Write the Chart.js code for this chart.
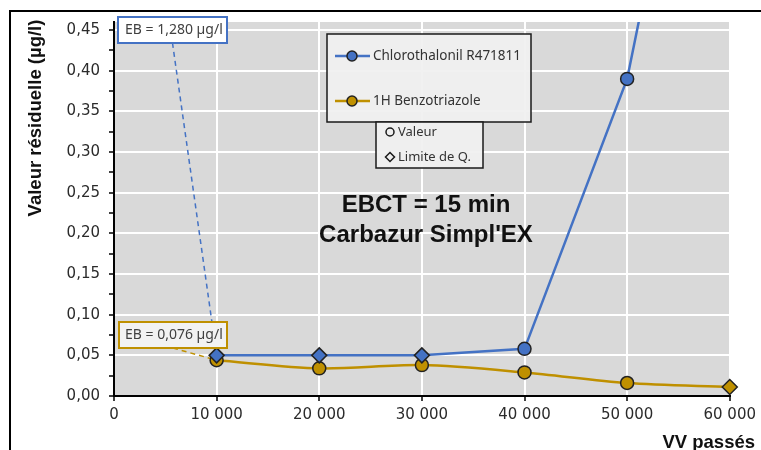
<!DOCTYPE html>
<html>
<head>
<meta charset="utf-8">
<script src="https://cdn.jsdelivr.net/npm/chart.js@4/dist/chart.umd.min.js"></script>
<style>
  html, body { margin: 0; padding: 0; background: #fff; }
  #wrap { width: 761px; height: 450px; position: relative; }
</style>
</head>
<body>
<div id="wrap"><canvas id="chart" width="761" height="450"></canvas></div>
<script>
// VV passés (x) and residual values (µg/l)
var vvPasses = [10000, 20000, 30000, 40000, 50000, 60000];
var chlorothalonil = [0.05, 0.05, 0.05, 0.058, 0.39, 1.01];
var chlorothalonilLQ = [true, true, true, false, false, false];
var benzotriazole = [0.044, 0.034, 0.038, 0.029, 0.016, 0.011];
var benzotriazoleLQ = [false, false, false, false, false, true];
var ebLabels = ["EB = 1,280 µg/l", "EB = 0,076 µg/l"];
var xTicks = [0, 10000, 20000, 30000, 40000, 50000, 60000];
var yTicks = [0, 0.05, 0.10, 0.15, 0.20, 0.25, 0.30, 0.35, 0.40, 0.45];

var BLUE = "#4472C4";
var GOLD = "#BF9000";

function toPoints(xs, ys) {
    return xs.map(function(x, i) { return { x: x, y: ys[i] }; });
}
function styles(lq) {
    return lq.map(function(d) { return d ? "rectRot" : "circle"; });
}
function radii(lq) {
    return lq.map(function(d) { return d ? 7.5 : 6.5; });
}
function fmtThousands(v) {
    return String(v).replace(/\B(?=(\d{3})+(?!\d))/g, " ");
}
function isMinor(v) {
    return Math.round(v / 0.025) % 2 === 1;
}

// majors + minors for the y axis
var yAllTicks = [];
yTicks.forEach(function(v, i) {
    yAllTicks.push(v);
    if (i < yTicks.length - 1) yAllTicks.push((v + yTicks[i + 1]) / 2);
});

var decor = {
    id: "decor",
    beforeDraw: function(chart) {
        var ctx = chart.ctx, a = chart.chartArea;
        ctx.save();
        ctx.fillStyle = "#fff";
        ctx.fillRect(0, 0, chart.width, chart.height);
        ctx.fillStyle = "#D9D9D9";
        ctx.fillRect(a.left, a.top, a.right - a.left, a.bottom - a.top);
        ctx.restore();
    },
    beforeDatasetsDraw: function(chart) {
        // leader lines from the EB boxes to the 10 000 points
        var ctx = chart.ctx, xs = chart.scales.x, ys = chart.scales.y;
        ctx.save();
        ctx.setLineDash([5, 4]);
        ctx.lineWidth = 1.5;
        ctx.strokeStyle = BLUE;
        ctx.beginPath();
        ctx.moveTo(172.5, 43);
        ctx.lineTo(xs.getPixelForValue(vvPasses[0]), ys.getPixelForValue(chlorothalonil[0]));
        ctx.stroke();
        ctx.strokeStyle = GOLD;
        ctx.beginPath();
        ctx.moveTo(173, 348);
        ctx.lineTo(xs.getPixelForValue(vvPasses[0]), ys.getPixelForValue(benzotriazole[0]));
        ctx.stroke();
        ctx.restore();
    },
    afterDraw: function(chart) {
        var ctx = chart.ctx;
        ctx.save();

        // outer frame (top + left)
        ctx.strokeStyle = "#000";
        ctx.lineWidth = 2;
        ctx.beginPath();
        ctx.moveTo(10, 450);
        ctx.lineTo(10, 11);
        ctx.lineTo(761, 11);
        ctx.stroke();

        // axis titles
        ctx.fillStyle = "#111";
        ctx.font = "bold 18.5px 'Liberation Sans', Arial, sans-serif";
        ctx.textAlign = "center";
        ctx.textBaseline = "middle";
        ctx.save();
        ctx.translate(36, 118);
        ctx.rotate(-Math.PI / 2);
        ctx.fillText("Valeur résiduelle (µg/l)", 0, 0);
        ctx.restore();
        ctx.textAlign = "right";
        ctx.textBaseline = "alphabetic";
        ctx.fillText("VV passés", 755, 448);

        // centre annotation
        ctx.textAlign = "center";
        ctx.textBaseline = "middle";
        ctx.font = "bold 24px 'Liberation Sans', Arial, sans-serif";
        ctx.fillText("EBCT = 15 min", 426, 205);
        ctx.fillText("Carbazur Simpl'EX", 426, 235);

        // legend box 1
        ctx.fillStyle = "rgba(240,240,240,0.95)";
        ctx.fillRect(327, 34, 204, 88);
        ctx.strokeStyle = "#1a1a1a";
        ctx.lineWidth = 1.5;
        ctx.strokeRect(327, 34, 204, 88);
        var entries = [["Chlorothalonil R471811", BLUE, 56], ["1H Benzotriazole", GOLD, 101]];
        ctx.font = "13.5px 'Noto Sans', 'Open Sans', sans-serif";
        ctx.textAlign = "left";
        entries.forEach(function(e) {
            ctx.strokeStyle = e[1];
            ctx.lineWidth = 2.5;
            ctx.beginPath();
            ctx.moveTo(335, e[2]);
            ctx.lineTo(370, e[2]);
            ctx.stroke();
            ctx.fillStyle = e[1];
            ctx.strokeStyle = "#222";
            ctx.lineWidth = 1.5;
            ctx.beginPath();
            ctx.arc(352, e[2], 5, 0, Math.PI * 2);
            ctx.fill();
            ctx.stroke();
            ctx.fillStyle = "#333";
            ctx.fillText(e[0], 373, e[2]);
        });

        // legend box 2
        ctx.fillStyle = "rgba(240,240,240,0.95)";
        ctx.fillRect(376, 122, 107, 46);
        ctx.strokeStyle = "#1a1a1a";
        ctx.strokeRect(376, 122, 107, 46);
        ctx.lineWidth = 1.5;
        ctx.beginPath();
        ctx.arc(390, 132, 4, 0, Math.PI * 2);
        ctx.stroke();
        ctx.beginPath();
        ctx.moveTo(390, 152.5);
        ctx.lineTo(394.5, 157);
        ctx.lineTo(390, 161.5);
        ctx.lineTo(385.5, 157);
        ctx.closePath();
        ctx.stroke();
        ctx.fillStyle = "#333";
        ctx.font = "13px 'Noto Sans', 'Open Sans', sans-serif";
        ctx.fillText("Valeur", 398, 132);
        ctx.fillText("Limite de Q.", 398, 157);

        // EB boxes
        ctx.font = "14px 'Noto Sans', 'Open Sans', sans-serif";
        ctx.lineWidth = 2;
        ctx.fillStyle = "#fff";
        ctx.fillRect(118, 17, 109, 26);
        ctx.strokeStyle = BLUE;
        ctx.strokeRect(118, 17, 109, 26);
        ctx.fillStyle = "#404040";
        ctx.fillText(ebLabels[0], 125, 30);
        ctx.fillStyle = "#F2F2F2";
        ctx.fillRect(119, 322, 108, 26);
        ctx.strokeStyle = GOLD;
        ctx.strokeRect(119, 322, 108, 26);
        ctx.fillStyle = "#404040";
        ctx.fillText(ebLabels[1], 125, 335);

        ctx.restore();
    }
};

Chart.defaults.font.family = "'DejaVu Sans', sans-serif";

var chart = new Chart(document.getElementById("chart"), {
    type: "line",
    data: {
        datasets: [
            {
                label: "Chlorothalonil R471811",
                data: toPoints(vvPasses, chlorothalonil),
                borderColor: BLUE,
                borderWidth: 2.5,
                backgroundColor: BLUE,
                pointStyle: styles(chlorothalonilLQ),
                pointRadius: radii(chlorothalonilLQ),
                pointBackgroundColor: BLUE,
                pointBorderColor: "#222",
                pointBorderWidth: 1.5,
                tension: 0,
                clip: { left: false, top: 0, right: false, bottom: false }
            },
            {
                label: "1H Benzotriazole",
                data: toPoints(vvPasses, benzotriazole),
                borderColor: GOLD,
                borderWidth: 2.5,
                backgroundColor: GOLD,
                pointStyle: styles(benzotriazoleLQ),
                pointRadius: radii(benzotriazoleLQ),
                pointBackgroundColor: GOLD,
                pointBorderColor: "#222",
                pointBorderWidth: 1.5,
                tension: 0.3,
                clip: false
            }
        ]
    },
    options: {
        responsive: false,
        animation: false,
        events: [],
        layout: { padding: { top: 22, right: 28, left: 0, bottom: 0 } },
        plugins: {
            legend: { display: false },
            tooltip: { enabled: false }
        },
        scales: {
            x: {
                type: "linear",
                min: xTicks[0],
                max: xTicks[xTicks.length - 1],
                afterFit: function(scale) { scale.height = 54; },
                afterBuildTicks: function(scale) {
                    scale.ticks = xTicks.map(function(v) { return { value: v }; });
                },
                ticks: {
                    autoSkip: false,
                    maxRotation: 0,
                    padding: 5,
                    color: "#2b2b2b",
                    font: { size: 15 },
                    callback: function(v) { return fmtThousands(v); }
                },
                grid: {
                    color: function(c) { return c.tick && c.tick.value === 0 ? "rgba(0,0,0,0)" : "#fff"; },
                    lineWidth: 2,
                    tickLength: 5,
                    tickColor: "#000",
                    tickWidth: 1.5
                },
                border: { color: "#000", width: 2 }
            },
            y: {
                type: "linear",
                min: 0,
                max: 0.46,
                afterFit: function(scale) { scale.width = 114; },
                afterBuildTicks: function(scale) {
                    scale.ticks = yAllTicks.map(function(v) { return { value: v }; });
                },
                ticks: {
                    autoSkip: false,
                    padding: 9,
                    color: "#2b2b2b",
                    font: { size: 15 },
                    callback: function(v) { return isMinor(v) ? "" : v.toFixed(2).replace(".", ","); }
                },
                grid: {
                    color: function(c) {
                        if (!c.tick || c.tick.value === 0 || isMinor(c.tick.value)) return "rgba(0,0,0,0)";
                        return "#fff";
                    },
                    lineWidth: 2,
                    tickLength: 5,
                    tickColor: "#000",
                    tickWidth: 1.5
                },
                border: { color: "#000", width: 2 }
            }
        }
    },
    plugins: [decor]
});
</script>
</body>
</html>
